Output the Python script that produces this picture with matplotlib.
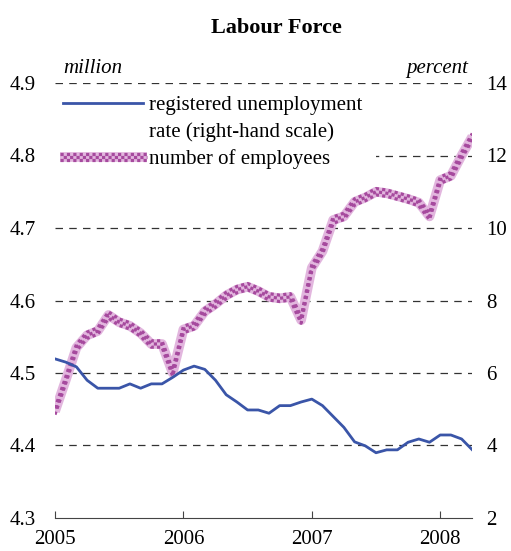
import matplotlib
matplotlib.use('Agg')
import matplotlib.pyplot as plt
import matplotlib.transforms as mtransforms
from matplotlib.patches import Rectangle
from matplotlib.lines import Line2D
import numpy as np

plt.rcParams['font.family'] = 'Liberation Serif'

# monthly, Jan 2005 .. Apr 2008
start_year = 2005
employees = [4.447, 4.49, 4.535, 4.552, 4.558, 4.58, 4.570, 4.565, 4.555, 4.54,
             4.54, 4.50, 4.56, 4.565, 4.585, 4.595, 4.607, 4.615, 4.619, 4.613,
             4.605, 4.603, 4.605, 4.573, 4.645, 4.668, 4.711, 4.716, 4.736, 4.742,
             4.750, 4.748, 4.744, 4.740, 4.735, 4.716, 4.766, 4.772, 4.800, 4.826]
unemployment = [6.39, 6.30, 6.17, 5.80, 5.58, 5.58, 5.58, 5.70, 5.58, 5.70,
                5.70, 5.88, 6.08, 6.19, 6.10, 5.80, 5.40, 5.20, 4.98, 4.98,
                4.89, 5.10, 5.10, 5.20, 5.28, 5.10, 4.80, 4.50, 4.10, 3.99,
                3.80, 3.88, 3.88, 4.09, 4.18, 4.09, 4.29, 4.29, 4.18, 3.88]
left_ticks = [4.3, 4.4, 4.5, 4.6, 4.7, 4.8, 4.9]
right_ticks = [2, 4, 6, 8, 10, 12, 14]
year_ticks = [2005, 2006, 2007, 2008]

x = start_year + np.arange(len(employees)) / 12

W, H = 511, 551
fig = plt.figure(figsize=(W / 100, H / 100), dpi=100)
ax = fig.add_axes([55 / W, 33 / H, 417.3 / W, 435 / H])
ax2 = ax.twinx()

ax.set_xlim(2005, x[-1])
ax.set_ylim(4.3, 4.9)
ax2.set_ylim(2, 14)

for y in left_ticks[1:]:
    ax.axhline(y, color='#333333', lw=0.9, ls=(0, (6, 5)), zorder=1)

blue_col = '#3a55a8'
dark_pink = '#a64a9e'
light_pink = '#e2b6de'

ax2.plot(x, unemployment, color=blue_col, lw=2.0, zorder=3,
         solid_joinstyle='round')


def checker_line(axis, xs, ys, trans=None, zorder=2):
    base = axis.transData if trans is None else trans
    axis.plot(xs, ys, color=light_pink, lw=7, zorder=zorder, transform=base,
              solid_joinstyle='round', solid_capstyle='butt')
    for k, off in enumerate((-2.3, 0.0, 2.3)):
        tr = mtransforms.offset_copy(base, fig=fig, x=0, y=off, units='points')
        axis.plot(xs, ys, color=dark_pink, lw=2.3, zorder=zorder, transform=tr,
                  ls=(k % 2, (1, 1)), dash_capstyle='butt',
                  dash_joinstyle='round')


checker_line(ax, x, employees)

for a in (ax, ax2):
    for s in ('left', 'right', 'top'):
        a.spines[s].set_visible(False)
ax.spines['bottom'].set_color('#444444')
ax2.spines['bottom'].set_visible(False)

ax.set_xticks(year_ticks)
ax.set_xticklabels([str(y) for y in year_ticks])
ax.tick_params(axis='x', direction='in', length=5, color='#444444',
               labelsize=15, pad=9)
ax.set_yticks(left_ticks)
ax.set_yticklabels([f'{v:.1f}' for v in left_ticks])
ax.tick_params(axis='y', length=0, labelsize=15, pad=14)
ax2.set_yticks(right_ticks)
ax2.tick_params(axis='y', length=0, labelsize=15, pad=10)

ax.text(0.02, 1.012, 'million', transform=ax.transAxes, fontsize=15,
        style='italic', ha='left', va='bottom')
ax.text(0.99, 1.012, 'percent', transform=ax.transAxes, fontsize=15,
        style='italic', ha='right', va='bottom')
fig.text(276 / W, 1 - 28 / H, 'Labour Force', fontsize=16,
         fontweight='bold', ha='center', va='center')

# legend (drawn by hand so the rows line up like the original)
px = lambda v: v / W
py = lambda v: 1 - v / H
ax.add_patch(Rectangle((px(55), py(172)), px(376) - px(55), py(92) - py(172),
                       transform=fig.transFigure, facecolor='white',
                       edgecolor='none', zorder=4))
ax.add_line(Line2D([px(63), px(143)], [py(103), py(103)], color=blue_col,
                   lw=2.0, transform=fig.transFigure, zorder=5))
checker_line(ax, [px(60), px(147)], [py(157), py(157)],
             trans=fig.transFigure, zorder=5)
for label, ypix in (('registered unemployment', 103),
                    ('rate (right-hand scale)', 130),
                    ('number of employees', 157)):
    fig.text(px(149), py(ypix), label, fontsize=15, ha='left',
             va='center_baseline', zorder=6)

fig.savefig('out.png', dpi=100)
